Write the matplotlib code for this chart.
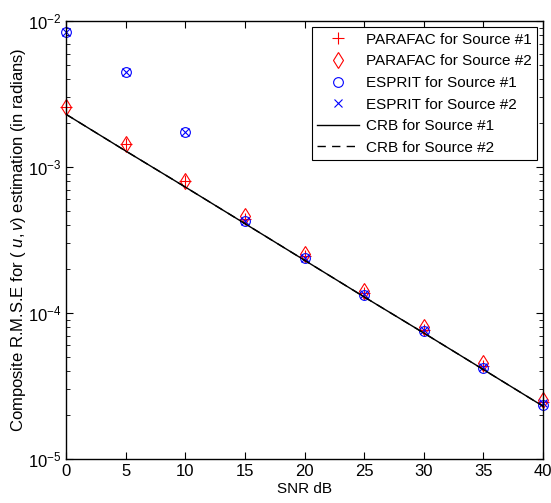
import matplotlib
matplotlib.use('Agg')
import matplotlib.pyplot as plt
import numpy as np

plt.rcParams['font.family'] = ['Liberation Sans', 'DejaVu Sans']
plt.rcParams['mathtext.fontset'] = 'custom'
plt.rcParams['mathtext.it'] = 'Liberation Sans:italic'
plt.rcParams['mathtext.rm'] = 'Liberation Sans'

snr = [0, 5, 10, 15, 20, 25, 30, 35, 40]
parafac_1 = [2.6e-3, 1.44e-3, 8.0e-4, 4.4e-4, 2.45e-4, 1.37e-4, 7.7e-5, 4.35e-5, 2.45e-5]
parafac_2 = [2.6e-3, 1.44e-3, 8.0e-4, 4.6e-4, 2.55e-4, 1.42e-4, 8.0e-5, 4.55e-5, 2.55e-5]
esprit_1 = [8.4e-3, 4.48e-3, 1.75e-3, 4.3e-4, 2.38e-4, 1.33e-4, 7.5e-5, 4.2e-5, 2.35e-5]
esprit_2 = [8.4e-3, 4.48e-3, 1.75e-3, 4.3e-4, 2.4e-4, 1.34e-4, 7.6e-5, 4.25e-5, 2.4e-5]
crb_1 = [2.3e-3, 1.29e-3, 7.3e-4, 4.1e-4, 2.3e-4, 1.29e-4, 7.3e-5, 4.1e-5, 2.3e-5]
crb_2 = [2.3e-3, 1.29e-3, 7.3e-4, 4.1e-4, 2.3e-4, 1.29e-4, 7.3e-5, 4.1e-5, 2.3e-5]

fig = plt.figure(figsize=(5.51, 5.03), dpi=100)
ax = fig.add_axes([0.1198, 0.0875, 0.8657, 0.8705])

ax.semilogy(snr, parafac_1, 'r+', ms=8, mew=0.8, clip_on=False, label='PARAFAC for Source #1')
ax.semilogy(snr, parafac_2, 'rd', ms=8, mew=0.8, mfc='none', clip_on=False, label='PARAFAC for Source #2')
ax.semilogy(snr, esprit_1, 'bo', ms=7, mew=0.8, mfc='none', clip_on=False, label='ESPRIT for Source #1')
ax.semilogy(snr, esprit_2, 'bx', ms=6, mew=0.8, clip_on=False, label='ESPRIT for Source #2')
ax.semilogy(snr, crb_1, 'k-', lw=1, label='CRB for Source #1')
ax.semilogy(snr, crb_2, 'k--', lw=1, dashes=(6, 4.5), label='CRB for Source #2')

ax.set_xlim(0, 40)
ax.set_ylim(1e-5, 1e-2)
ax.set_xticks(np.arange(0, 41, 5))
ax.tick_params(which='both', direction='in', top=True, right=True, labelsize=12)
ax.tick_params(which='major', length=5)
ax.tick_params(which='minor', length=3)
for s in ax.spines.values():
    s.set_linewidth(1)

ax.set_xlabel('SNR dB', fontsize=11, labelpad=2)
ax.set_ylabel('Composite R.M.S.E for ( $u,v$) estimation (in radians)', fontsize=12, labelpad=0)

leg = ax.legend(loc='upper right', fontsize=11, fancybox=False, edgecolor='k',
                framealpha=1, handlelength=2.75, borderpad=0.35, labelspacing=0.5,
                handletextpad=0.45, borderaxespad=0.4)
leg.get_frame().set_linewidth(0.8)

fig.savefig('out.png', dpi=100)
